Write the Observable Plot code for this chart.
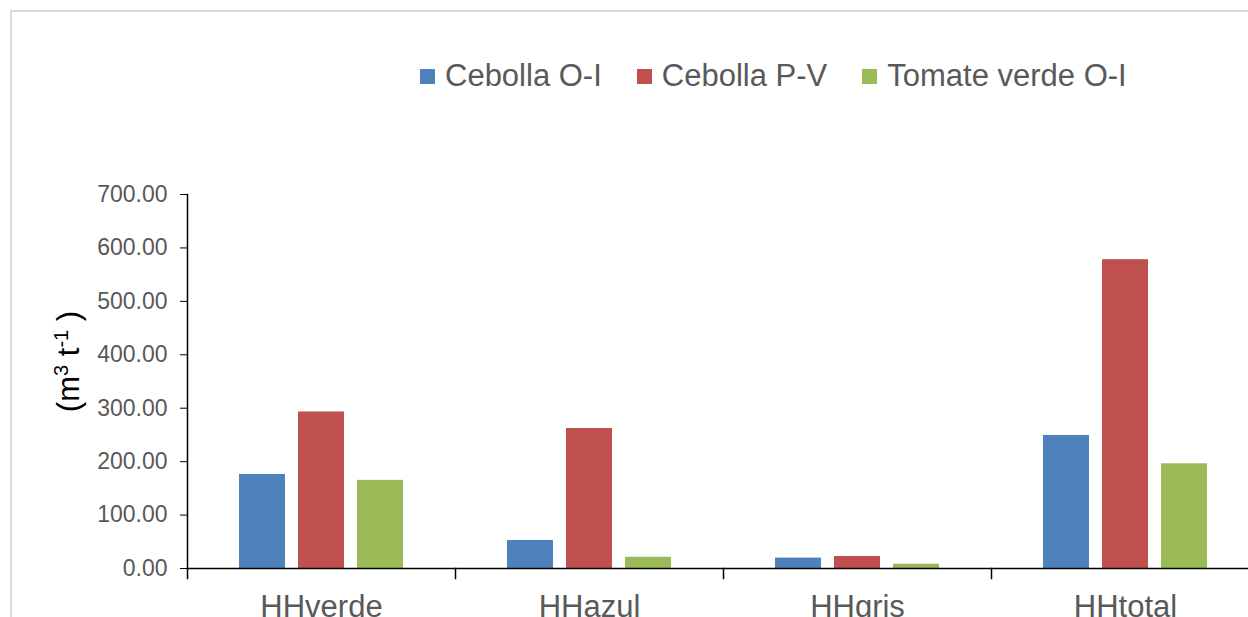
<!DOCTYPE html>
<html>
<head>
<meta charset="utf-8">
<script src="https://cdn.jsdelivr.net/npm/d3@7"></script>
<script src="https://cdn.jsdelivr.net/npm/@observablehq/plot@0.6"></script>
<style>
  html, body { margin: 0; padding: 0; background: #fff; }
  body { width: 1248px; height: 617px; overflow: hidden; position: relative; font-family: "Liberation Sans", Arial, sans-serif; }
  #legend { position: absolute; left: 420px; top: 58px; display: flex; align-items: center; font-size: 31px; line-height: 36px; color: #595959; white-space: nowrap; }
  #legend .item { display: flex; align-items: center; margin-right: 35px; }
  #legend .sw { width: 15px; height: 15px; margin-right: 10px; }
  #chart { position: absolute; left: 0; top: 150px; }
  #border { position: absolute; left: 10px; top: 10px; right: 0; bottom: 0; border-top: 2px solid #d9d9d9; border-left: 2px solid #d9d9d9; pointer-events: none; }
</style>
</head>
<body>
<div id="legend"></div>
<div id="chart"></div>
<div id="border"></div>
<script>
// Water footprint components per crop (m³ t⁻¹)
const categories = ["HHverde", "HHazul", "HHgris", "HHtotal"];
const series = ["Cebolla O-I", "Cebolla P-V", "Tomate verde O-I"];
const cebollaOI = [176, 52.5, 19.5, 249];
const cebollaPV = [293, 262, 22.5, 578];
const tomateVerdeOI = [165, 21, 8, 196];
const colors = ["#4f81bd", "#c0504d", "#9bbb59"];
const yTicks = [0, 100, 200, 300, 400, 500, 600, 700];

const seriesValues = [cebollaOI, cebollaPV, tomateVerdeOI];
const rows = [];
series.forEach((s, i) => {
  categories.forEach((c, j) => rows.push({category: c, series: s, value: seriesValues[i][j]}));
});

// Legend
const legend = d3.select("#legend");
series.forEach((s, i) => {
  const item = legend.append("div").attr("class", "item");
  item.append("div").attr("class", "sw").style("background", colors[i]);
  item.append("span").text(s);
});

const height = 467, marginTop = 44, marginBottom = 49;
const innerHeight = height - marginTop - marginBottom;

const chart = Plot.plot({
  width: 1248,
  height,
  marginTop,
  marginBottom,
  marginLeft: 186,
  marginRight: -12,
  style: {fontFamily: "'Liberation Sans', Arial, sans-serif", color: "#595959", background: "transparent"},
  fx: {domain: categories, padding: 0, label: null, axis: null},
  x: {domain: series, paddingInner: 0.218, paddingOuter: 0.859, axis: null},
  y: {domain: [0, 700], axis: null},
  color: {domain: series, range: colors},
  marks: [
    Plot.barY(rows, {fx: "category", x: "series", y: "value", fill: "series"}),
    Plot.axisY({ticks: yTicks, tickFormat: d3.format(".2f"), tickSize: 7, tickPadding: 13, fontSize: 23, stroke: "black", label: null}),
    Plot.axisFx({anchor: "bottom", tickSize: 0, tickPadding: 26, fontSize: 31, label: null}),
    Plot.frame({anchor: "left", facetAnchor: "left", stroke: "black", strokeWidth: 1.5}),
    Plot.frame({anchor: "left", insetTop: innerHeight, insetBottom: -10, stroke: "black", strokeWidth: 1.5}),
    Plot.ruleY([0], {stroke: "black", strokeWidth: 1.5})
  ]
});
document.getElementById("chart").appendChild(chart);

// Rotated y-axis title with superscripts
const title = d3.select(chart).append("text")
  .attr("transform", "translate(79,211.5) rotate(-90)")
  .attr("text-anchor", "middle")
  .attr("fill", "#000")
  .style("font-size", "31px")
  .style("font-family", "'Liberation Sans', Arial, sans-serif");
title.append("tspan").text("(m");
title.append("tspan").attr("baseline-shift", "super").style("font-size", "20px").text("3");
title.append("tspan").text(" t");
title.append("tspan").attr("baseline-shift", "super").style("font-size", "20px").text("-1");
title.append("tspan").text(" )");
</script>
</body>
</html>
